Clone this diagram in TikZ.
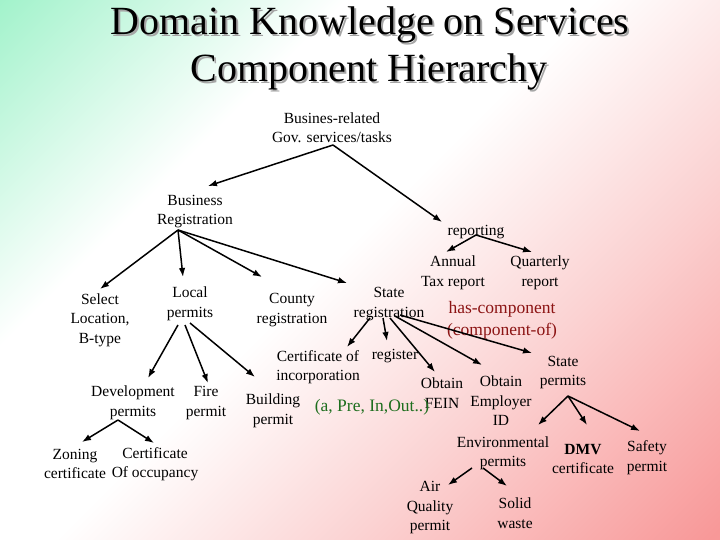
\documentclass[tikz,border=0pt]{standalone}
\usepackage{fontspec}
\setmainfont{Liberation Serif}
\usetikzlibrary{calc,arrows.meta}
\definecolor{mint}{RGB}{160,242,202}
\definecolor{pinkc}{RGB}{248,152,152}
\definecolor{pinkl}{RGB}{251,210,210}
\definecolor{hcred}{RGB}{140,20,20}
\definecolor{grn}{RGB}{30,110,30}
\pgfdeclareverticalshading{bgsh}{100bp}{color(0bp)=(pinkc); color(15bp)=(pinkc); color(35bp)=(pinkl); color(52bp)=(white); color(66bp)=(white); color(86bp)=(mint); color(100bp)=(mint)}
\tikzset{
  lbl/.style={font=\fontsize{15.5}{19.5}\selectfont, align=center, inner sep=1pt},
  ttl/.style={font=\fontsize{40}{47}\selectfont, inner sep=0pt},
  rel/.style={font=\fontsize{17.5}{22.5}\selectfont, align=center, inner sep=0pt},
  arr/.style={line width=1.5pt, -{Latex[length=9pt,width=6.5pt]}},
}
\begin{document}
\begin{tikzpicture}[x=1pt,y=-1pt]
\shade[shading=bgsh, shading angle=45] (0,0) rectangle (720,540);
\useasboundingbox (0,0) rectangle (720,540);
% title
\node[ttl, text=black!35] (t1s) at (372,27) {Domain Knowledge on Services};
\node[ttl, text=black!35] (t2s) at (371,74) {Component Hierarchy};
\node[ttl] (t1) at (370,25) {Domain Knowledge on Services};
\node[ttl] (t2) at (369,72) {Component Hierarchy};
% nodes
\node[lbl] (root) at (332,127.5) {Busines-related\\Gov. services/tasks};
\node[lbl] (br) at (195,211.5) {Business\\Registration};
\node[lbl] (rep) at (476,232) {reporting};
\node[lbl] (sel) at (100,320) {Select\\Location,\\B-type};
\node[lbl] (loc) at (190,304) {Local\\permits};
\node[lbl] (cty) at (292,310) {County\\registration};
\node[lbl] (sr) at (389,304) {State\\registration};
\node[lbl] (ann) at (453,273) {Annual\\Tax report};
\node[lbl] (qtr) at (540,273) {Quarterly\\report};
\node[rel, text=hcred] (hc) at (502,320.5) {has-component\\(component-of)};
\node[lbl] (coi) at (318,367) {Certificate of\\incorporation};
\node[lbl] (reg) at (395,356) {register};
\node[lbl] (fein) at (442,393) {Obtain\\FEIN};
\node[lbl] (emp) at (501,401) {Obtain\\Employer\\ID};
\node[lbl] (sp) at (563,372.5) {State\\permits};
\node[rel, text=grn] (aprio) at (372,407) {(a, Pre, In,Out..)};
\node[lbl] (env) at (503,453.5) {Environmental\\permits};
\node[lbl] (dmv) at (583,459) {\textbf{DMV}\\certificate};
\node[lbl] (saf) at (647,457.5) {Safety\\permit};
\node[lbl] (air) at (430,508) {Air\\Quality\\permit};
\node[lbl] (sol) at (515,513) {Solid\\waste};
\node[lbl] (dev) at (133,403) {Development\\permits};
\node[lbl] (fire) at (206,403) {Fire\\permit};
\node[lbl] (bld) at (273,411) {Building\\permit};
\node[lbl] (zon) at (75,464) {Zoning\\certificate};
\node[lbl] (cert) at (155,464) {Certificate\\Of occupancy};
% connectors
\draw[arr] ($(root)+(1,17.5)$) -- ($(br)+(13,-25.5)$);
\draw[arr] ($(root)+(1,17.5)$) -- ($(rep)+(-34,-10)$);
\draw[arr] ($(br)+(-17,18.5)$) -- ($(sel)+(0,-31)$);
\draw[arr] ($(br)+(-17,18.5)$) -- ($(loc)+(-7,-27)$);
\draw[arr] ($(br)+(-17,18.5)$) -- ($(cty)+(-30,-33)$);
\draw[arr] ($(br)+(-17,18.5)$) -- ($(sr)+(-42,-21)$);
\draw[arr] ($(rep)+(0,3)$) -- ($(ann)+(-7,-21)$);
\draw[arr] ($(rep)+(0,3)$) -- ($(qtr)+(-8,-21)$);
\draw[arr] ($(sr)+(-19,14)$) -- ($(coi)+(29,-20)$);
\draw[arr] ($(sr)+(-6,14)$) -- ($(reg)+(-8,-15)$);
\draw[arr] ($(sr)+(1,14)$) -- ($(fein)+(-7,-21)$);
\draw[arr] ($(sr)+(6,12)$) -- ($(emp)+(-19,-36)$);
\draw[arr] ($(sr)+(11,11)$) -- ($(sp)+(-31,-19.5)$);
\draw[arr] ($(loc)+(-12,21)$) -- ($(dev)+(15,-25)$);
\draw[arr] ($(loc)+(-5,21)$) -- ($(fire)+(2,-20)$);
\draw[arr] ($(loc)+(0,19)$) -- ($(bld)+(-18,-34)$);
\draw[arr] ($(dev)+(-15,17)$) -- ($(zon)+(7,-22)$);
\draw[arr] ($(dev)+(-15,17)$) -- ($(cert)+(-1,-21)$);
\draw[arr] ($(sp)+(5,23.5)$) -- ($(env)+(35,-28.5)$);
\draw[arr] ($(sp)+(5,23.5)$) -- ($(dmv)+(4,-34)$);
\draw[arr] ($(sp)+(5,23.5)$) -- ($(saf)+(-7,-26.5)$);
\draw[arr] ($(env)+(-31,14.5)$) -- ($(air)+(18,-23)$);
\draw[arr] ($(env)+(-20,14.5)$) -- ($(sol)+(-8,-27)$);
\end{tikzpicture}
\end{document}
